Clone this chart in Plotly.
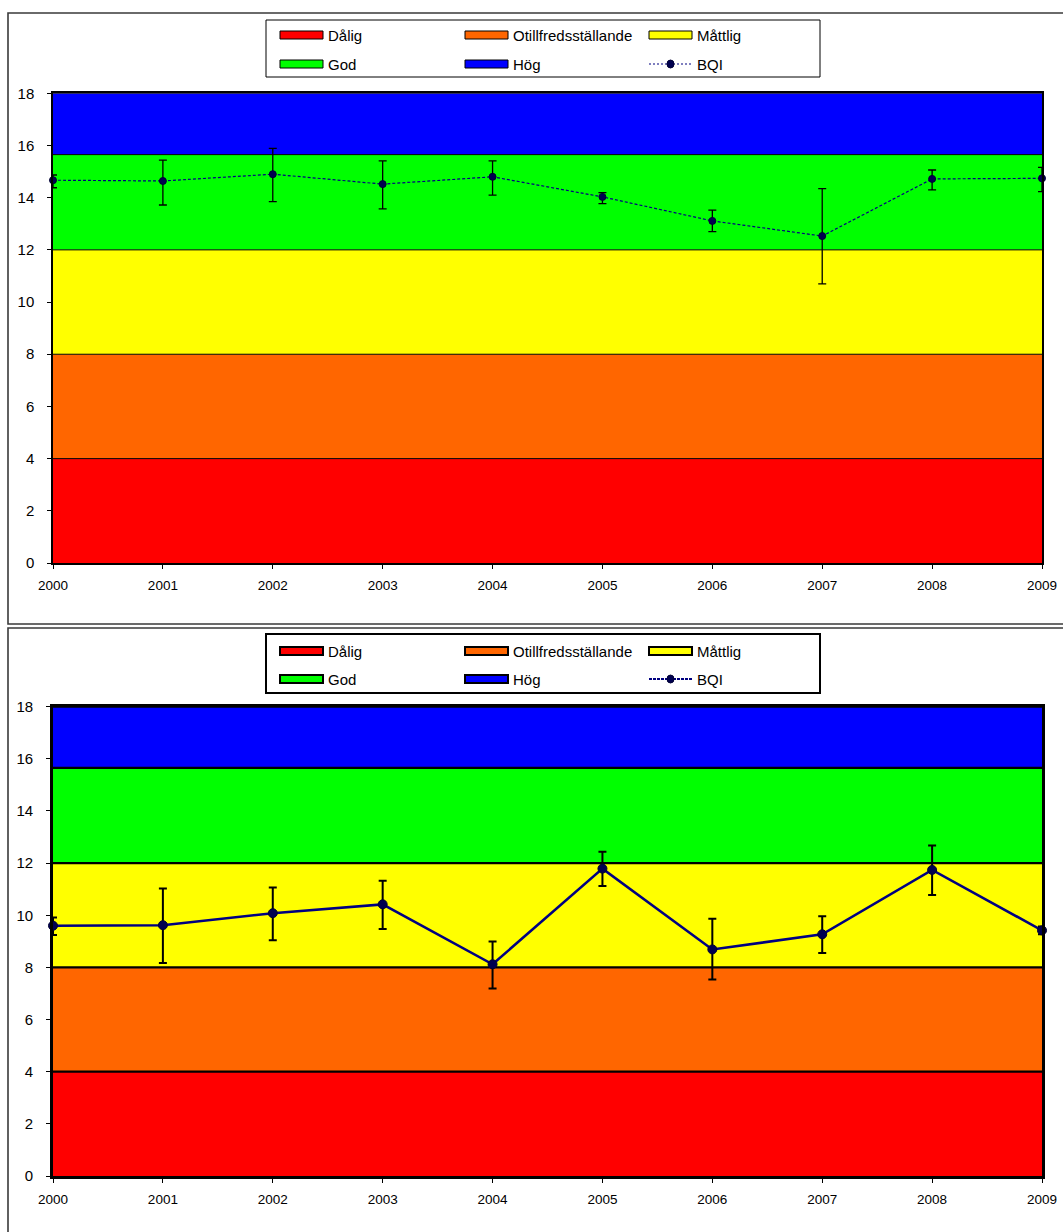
import plotly.graph_objects as go

W, H = 1063, 1232

years = [2000, 2001, 2002, 2003, 2004, 2005, 2006, 2007, 2008, 2009]

band_names = ["Dålig", "Otillfredsställande", "Måttlig", "God", "Hög"]
band_colors = ["#FF0000", "#FF6600", "#FFFF00", "#00FF00", "#0000FF"]
band_heights = [4, 4, 4, 3.65, 2.35]

# Chart 1 (top)
bqi1 = [14.67, 14.64, 14.90, 14.52, 14.80, 14.03, 13.11, 12.53, 14.72, 14.74]
bqi1_hi = [14.87, 15.44, 15.89, 15.41, 15.41, 14.19, 13.52, 14.35, 15.06, 15.16]
bqi1_lo = [14.38, 13.72, 13.85, 13.57, 14.10, 13.77, 12.70, 10.70, 14.30, 14.23]

# Chart 2 (bottom)
bqi2 = [9.60, 9.62, 10.08, 10.42, 8.12, 11.79, 8.69, 9.27, 11.74, 9.42]
bqi2_hi = [9.91, 11.03, 11.07, 11.32, 8.99, 12.44, 9.87, 9.96, 12.68, 9.57]
bqi2_lo = [9.24, 8.17, 9.04, 9.47, 7.19, 11.12, 7.54, 8.55, 10.78, 9.27]

y_ticks = [0, 2, 4, 6, 8, 10, 12, 14, 16, 18]
FONT = "Liberation Sans, Arial, sans-serif"


def px(x):
    return x / W


def py(y):
    return 1 - y / H


fig = go.Figure()

charts = [
    dict(xa="x", ya="y", vals=bqi1, hi=bqi1_hi, lo=bqi1_lo, y0=563.0, y18=93.3,
         band_lw=1, dash="3px,2px", lw=1.2, ms=7, eb_w=1.3, box_top=20, box_bot=77,
         rows=[35, 64], legend_lw=1, frame=(13, 624),
         leg_line=dict(width=1.2, dash="2px,2px")),
    dict(xa="x2", ya="y2", vals=bqi2, hi=bqi2_hi, lo=bqi2_lo, y0=1176.0, y18=706.7,
         band_lw=2.2, dash="solid", lw=2.6, ms=9, eb_w=2, box_top=634, box_bot=693,
         rows=[651, 679], legend_lw=2, frame=(628, 1300),
         leg_line=dict(width=2, dash="3px,1px")),
]

shapes = []
annotations = []

for c in charts:
    # stacked bands
    sg = "bands_" + c["xa"]
    for name, col, h in zip(band_names, band_colors, band_heights):
        fig.add_trace(go.Scatter(
            x=years, y=[h] * len(years), xaxis=c["xa"], yaxis=c["ya"],
            stackgroup=sg, mode="lines", fillcolor=col,
            line=dict(color="black", width=c["band_lw"]),
            name=name, showlegend=False, hoverinfo="skip"))
    # BQI
    fig.add_trace(go.Scatter(
        x=years, y=c["vals"], xaxis=c["xa"], yaxis=c["ya"], mode="lines+markers",
        line=dict(color="#000080", width=c["lw"], dash=c["dash"]),
        marker=dict(color="#000050", size=c["ms"], symbol="circle",
                    line=dict(color="#000033", width=1)),
        error_y=dict(type="data", symmetric=False,
                     array=[h - v for h, v in zip(c["hi"], c["vals"])],
                     arrayminus=[v - l for v, l in zip(c["vals"], c["lo"])],
                     color="black", thickness=c["eb_w"], width=4),
        cliponaxis=False, name="BQI", showlegend=False))

    # outer frame
    f0, f1 = c["frame"]
    shapes.append(dict(type="rect", xref="paper", yref="paper",
                       x0=px(8), x1=px(1075), y0=py(f1), y1=py(f0),
                       line=dict(color="#3a3a3a", width=1.6), fillcolor="rgba(0,0,0,0)",
                       layer="below"))
    # legend box
    shapes.append(dict(type="rect", xref="paper", yref="paper",
                       x0=px(266), x1=px(820), y0=py(c["box_bot"]), y1=py(c["box_top"]),
                       line=dict(color="black", width=c["legend_lw"]), fillcolor="white"))
    col_x = [280, 465, 649]
    items = list(zip(band_names, band_colors)) + [("BQI", None)]
    for i, (name, col) in enumerate(items):
        r, k = divmod(i, 3)
        yc = c["rows"][r]
        x0 = col_x[k]
        if col is not None:
            shapes.append(dict(type="rect", xref="paper", yref="paper",
                               x0=px(x0), x1=px(x0 + 43), y0=py(yc + 4), y1=py(yc - 4),
                               line=dict(color="black", width=c["legend_lw"]),
                               fillcolor=col))
        else:
            shapes.append(dict(type="line", xref="paper", yref="paper",
                               x0=px(x0), x1=px(x0 + 43), y0=py(yc), y1=py(yc),
                               line=dict(color="#000080", width=c["leg_line"]["width"],
                                         dash=c["leg_line"]["dash"])))
            shapes.append(dict(type="circle", xref="paper", yref="paper",
                               x0=px(x0 + 18), x1=px(x0 + 25),
                               y0=py(yc + 4), y1=py(yc - 4),
                               line=dict(color="#000033", width=1), fillcolor="#000050"))
        annotations.append(dict(xref="paper", yref="paper", x=px(x0 + 46), y=py(yc),
                                xanchor="left", yanchor="middle", showarrow=False,
                                text=name, font=dict(family=FONT, size=15, color="black")))

    # axes
    xd = [px(53), px(1042)]
    yd = [py(c["y0"]), py(c["y18"])]
    xkey = "xaxis" if c["xa"] == "x" else "xaxis2"
    ykey = "yaxis" if c["ya"] == "y" else "yaxis2"
    fig.update_layout(**{
        xkey: dict(domain=xd, anchor=c["ya"], range=[2000, 2009], tickmode="array",
                   tickvals=years, ticktext=[str(y) for y in years],
                   ticks="outside", ticklen=4, tickcolor="black", showgrid=False,
                   zeroline=False, showline=True, linecolor="black",
                   linewidth=c["band_lw"] + 0.5, mirror=True, ticklabelstandoff=5,
                   automargin=False,
                   tickfont=dict(family=FONT, size=13.5, color="black")),
        ykey: dict(domain=yd, anchor=c["xa"], range=[0, 18], tickmode="array",
                   tickvals=y_ticks, ticks="outside", ticklen=4, tickcolor="black",
                   showgrid=False, zeroline=False, showline=True, linecolor="black",
                   linewidth=c["band_lw"] + 0.5, mirror=True, ticklabelstandoff=10,
                   automargin=False,
                   tickfont=dict(family=FONT, size=15, color="black")),
    })

fig.update_layout(
    width=W, height=H, margin=dict(l=0, r=0, t=0, b=0, autoexpand=False),
    paper_bgcolor="white", plot_bgcolor="white", showlegend=False,
    shapes=shapes, annotations=annotations,
)

fig.write_html(
    "out.html",
    config={"displayModeBar": False},
    post_script="document.body.style.margin='0';document.body.style.overflow='hidden';",
)
